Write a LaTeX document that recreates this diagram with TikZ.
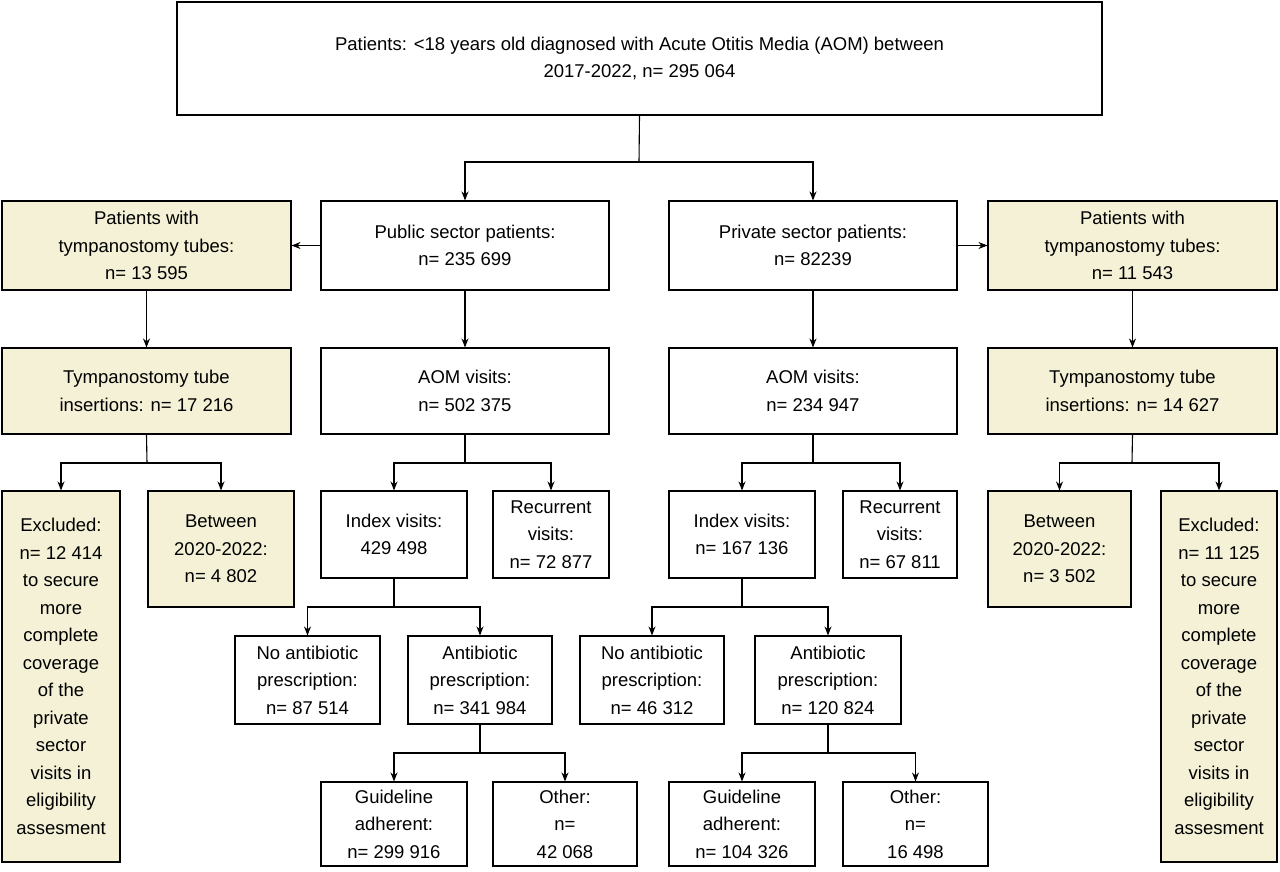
\documentclass[tikz,border=0pt]{standalone}
\usepackage{fontspec}
\setmainfont{Liberation Sans}
\usetikzlibrary{arrows.meta}
\definecolor{ylw}{HTML}{F4F1D6}
\begin{document}
\begin{tikzpicture}[x=1pt,y=-1pt,
  box/.style={draw=black,line width=1.1pt,align=center,inner sep=0pt,font=\fontsize{18.5}{27.5}\selectfont},
  arr/.style={line width=1.1pt,-{Stealth[length=9pt,width=7pt]}},
  ln/.style={line width=1.1pt}]
\useasboundingbox (0,0) rectangle (1280,872);
\newcommand\bx[7]{\node[box,fill=#6,minimum width=#4-#2,minimum height=#5-#3] (#1) at ({(#2+#4)/2},{(#3+#5)/2}) {#7};}
\bx{top}{177}{2}{1102}{115}{white}{Patients: <18 years old diagnosed with Acute Otitis Media (AOM) between\\2017-2022, n= 295 064}
\bx{ty1}{2}{201}{291}{290}{ylw}{Patients with\\tympanostomy tubes:\\n= 13 595}
\bx{pub}{321}{201}{609}{290}{white}{Public sector patients:\\n= 235 699}
\bx{pri}{669}{201}{957}{290}{white}{Private sector patients:\\n= 82239}
\bx{ty2}{988}{201}{1277}{290}{ylw}{Patients with\\tympanostomy tubes:\\n= 11 543}
\bx{ins1}{2}{348}{291}{434}{ylw}{Tympanostomy tube\\insertions: n= 17 216}
\bx{aom1}{321}{348}{609}{434}{white}{AOM visits:\\n= 502 375}
\bx{aom2}{669}{348}{957}{434}{white}{AOM visits:\\n= 234 947}
\bx{ins2}{988}{348}{1277}{434}{ylw}{Tympanostomy tube\\insertions: n= 14 627}
\bx{ex1}{2}{491}{120}{862}{ylw}{Excluded:\\n= 12 414\\to secure\\more\\complete\\coverage\\of the\\private\\sector\\visits in\\eligibility\\assesment}
\bx{bt1}{148}{491}{294}{607}{ylw}{Between\\2020-2022:\\n= 4 802}
\bx{ix1}{321}{491}{467}{578}{white}{Index visits:\\429 498}
\bx{rc1}{493}{491}{609}{578}{white}{Recurrent\\visits:\\n= 72 877}
\bx{ix2}{669}{491}{815}{578}{white}{Index visits:\\n= 167 136}
\bx{rc2}{843}{491}{957}{578}{white}{Recurrent\\visits:\\n= 67 811}
\bx{bt2}{988}{491}{1131}{607}{ylw}{Between\\2020-2022:\\n= 3 502}
\bx{ex2}{1161}{491}{1277}{862}{ylw}{Excluded:\\n= 11 125\\to secure\\more\\complete\\coverage\\of the\\private\\sector\\visits in\\eligibility\\assesment}
\bx{no1}{235}{636}{380}{724}{white}{No antibiotic\\prescription:\\n= 87 514}
\bx{ab1}{408}{636}{552}{724}{white}{Antibiotic\\prescription:\\n= 341 984}
\bx{no2}{580}{636}{724}{724}{white}{No antibiotic\\prescription:\\n= 46 312}
\bx{ab2}{755}{636}{901}{724}{white}{Antibiotic\\prescription:\\n= 120 824}
\bx{gl1}{321}{782}{467}{866}{white}{Guideline\\adherent:\\n= 299 916}
\bx{ot1}{493}{782}{637}{866}{white}{Other:\\n=\\42 068}
\bx{gl2}{669}{782}{815}{866}{white}{Guideline\\adherent:\\n= 104 326}
\bx{ot2}{843}{782}{988}{866}{white}{Other:\\n=\\16 498}
% splits
\newcommand\split[4]{\coordinate (j#1) at ($(#1.south)+(0,#4)$);
  \draw[ln] (#1.south) -- (j#1); \draw[arr] (j#1) -| (#2.north); \draw[arr] (j#1) -| (#3.north);}
\coordinate (jt) at (639,162);
\draw[ln] (top.south) -- (jt);
\draw[arr] (jt) -| (pub.north);
\draw[arr] (jt) -| (pri.north);
\draw[arr] (pub.west) -- (ty1.east);
\draw[arr] (pri.east) -- (ty2.west);
\foreach \a/\b in {ty1/ins1,pub/aom1,pri/aom2,ty2/ins2} \draw[arr] (\a) -- (\b);
\coordinate (j1) at (147,463); \draw[ln] (ins1.south) -- (j1);
\draw[arr] (j1) -| (ex1.north); \draw[arr] (j1) -| (bt1.north);
\coordinate (j2) at (465,463); \draw[ln] (aom1.south) -- (j2);
\draw[arr] (j2) -| (ix1.north); \draw[arr] (j2) -| (rc1.north);
\coordinate (j3) at (813,463); \draw[ln] (aom2.south) -- (j3);
\draw[arr] (j3) -| (ix2.north); \draw[arr] (j3) -| (rc2.north);
\coordinate (j4) at (1132,463); \draw[ln] (ins2.south) -- (j4);
\draw[arr] (j4) -| (bt2.north); \draw[arr] (j4) -| (ex2.north);
\coordinate (j5) at (394,607); \draw[ln] (ix1.south) -- (j5);
\draw[arr] (j5) -| (no1.north); \draw[arr] (j5) -| (ab1.north);
\coordinate (j6) at (742,607); \draw[ln] (ix2.south) -- (j6);
\draw[arr] (j6) -| (no2.north); \draw[arr] (j6) -| (ab2.north);
\coordinate (j7) at (480,753); \draw[ln] (ab1.south) -- (j7);
\draw[arr] (j7) -| (gl1.north); \draw[arr] (j7) -| (ot1.north);
\coordinate (j8) at (828,753); \draw[ln] (ab2.south) -- (j8);
\draw[arr] (j8) -| (gl2.north); \draw[arr] (j8) -| (ot2.north);
\end{tikzpicture}
\end{document}
